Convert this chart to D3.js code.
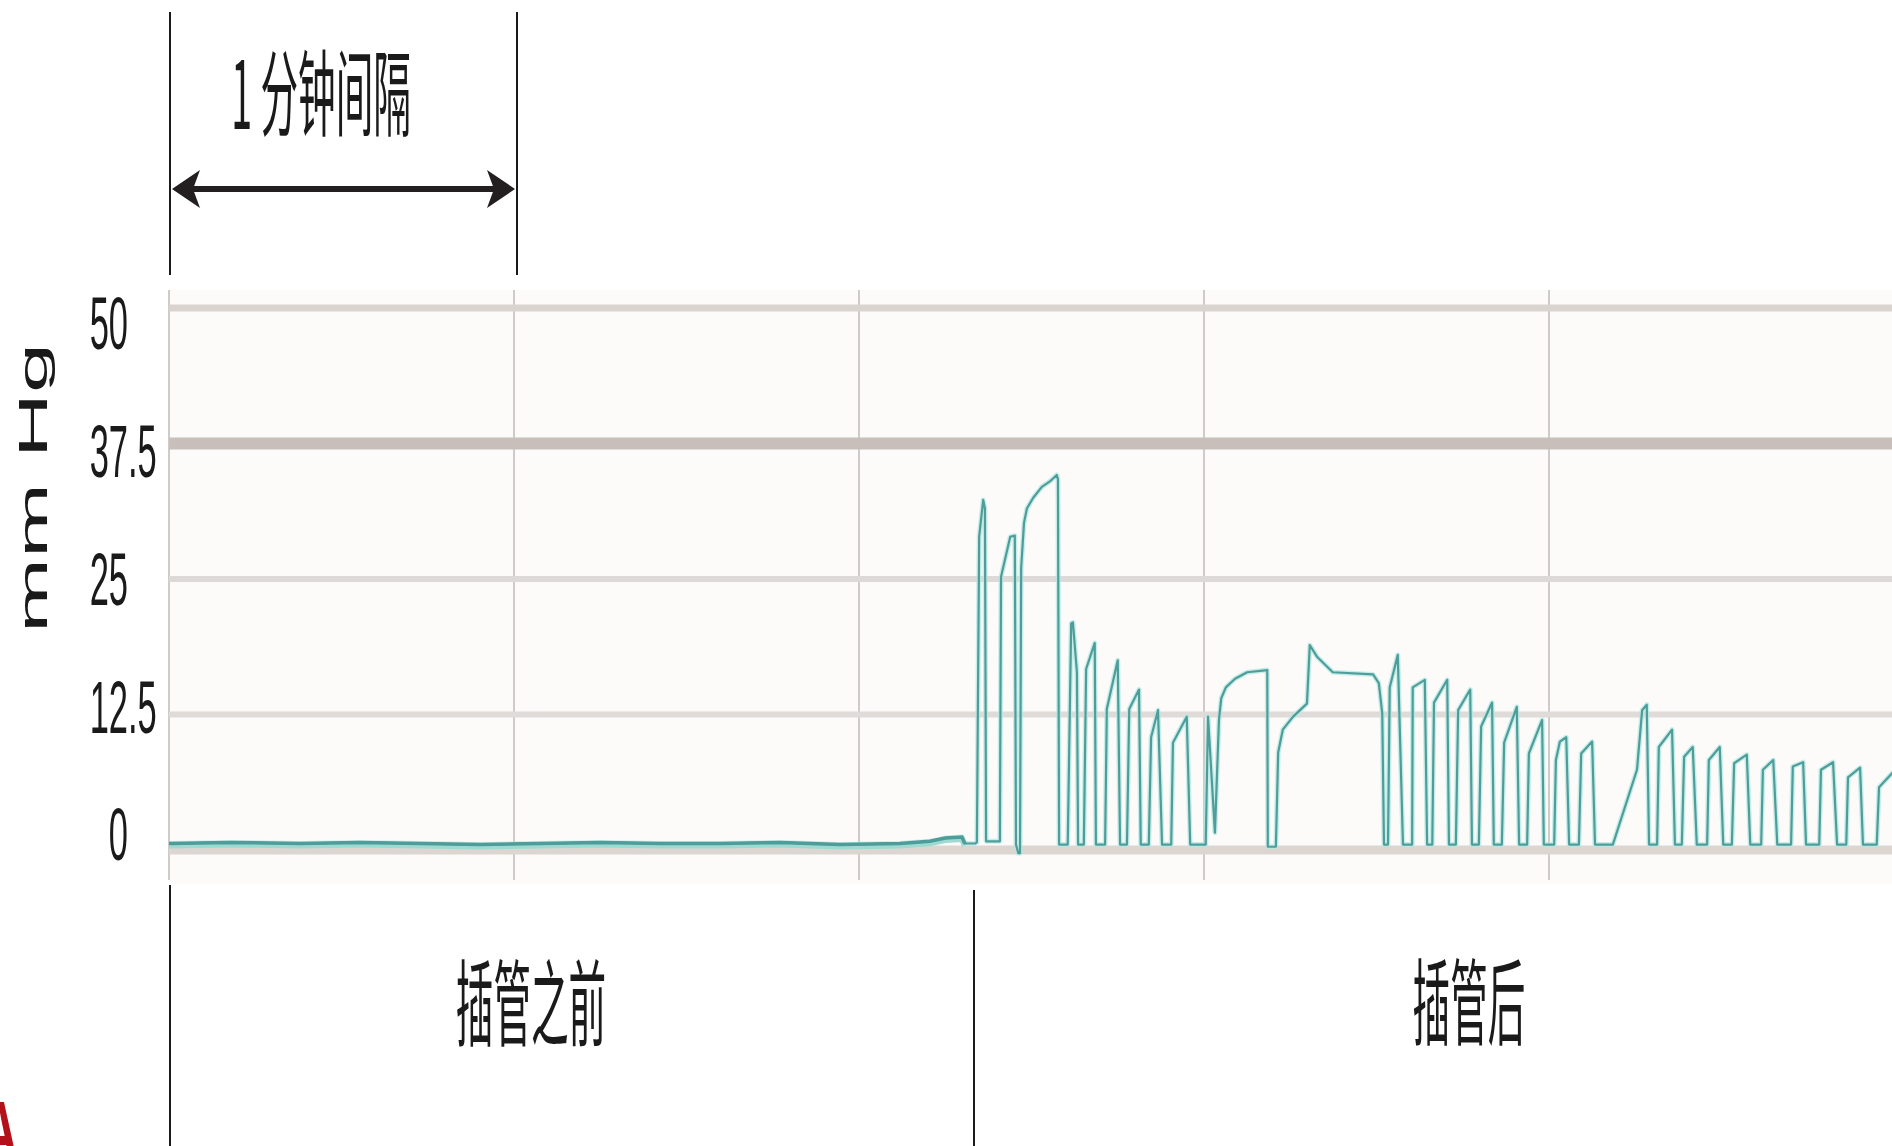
<!DOCTYPE html>
<html>
<head>
<meta charset="utf-8">
<script src="https://cdn.jsdelivr.net/npm/d3@7"></script>
<style>
  html, body { margin: 0; padding: 0; background: #fff; }
  svg { display: block; }
</style>
</head>
<body>
<svg id="chart" width="1892" height="1146"></svg>
<script>
// Airway pressure trace (mm Hg) over a 5-minute window, before and after intubation.
// Time is in seconds from the start of the recording.

const preTime = [0, 10.6, 22.8, 33.2, 43.7, 54.1, 64.5, 75.0, 85.4, 95.8, 106.3, 116.7,
  127.1, 132.3, 135.0, 137.9, 138.4];
const prePressure = [0.6, 0.7, 0.6, 0.7, 0.6, 0.5, 0.6, 0.7, 0.6, 0.6, 0.7, 0.5,
  0.6, 0.8, 1.1, 1.2, 0.6];

const postTime = [
  140.2, 140.5, 140.9, 141.6, 141.9, 142.1, 144.5, 144.7, 146.3, 147.1, 147.3, 147.7,
  148.0, 148.2, 148.7, 149.2, 150.3, 151.8, 153.2, 154.4, 154.6, 154.8, 156.3, 156.9,
  157.2, 157.9, 158.1, 159.1, 159.5, 161.0, 161.2, 162.8, 163.1, 165.0, 165.4, 166.6,
  167.0, 168.7, 169.0, 170.4, 170.8, 172.0, 172.7, 174.3, 174.6, 177.0, 177.6, 180.3,
  180.7, 181.9, 182.6, 183.0, 183.8, 185.4, 187.5, 191.0, 191.1, 192.5, 192.9, 193.7,
  195.5, 197.9, 198.4, 199.7, 202.4, 209.4, 210.4, 211.0, 211.3, 212.0, 212.3, 213.7,
  214.6, 216.2, 216.3, 218.4, 218.8, 219.7, 220.0, 222.3, 222.6, 223.8, 224.2, 226.3,
  226.6, 227.8, 228.2, 230.1, 230.4, 231.8, 232.2, 234.4, 234.8, 236.2, 236.5, 238.8,
  239.1, 240.9, 241.2, 241.9, 243.0, 243.5, 245.2, 245.6, 247.5, 248.0, 251.1, 255.3,
  256.2, 257.0, 257.4, 258.8, 259.1, 261.4, 261.9, 263.1, 263.5, 265.0, 265.7, 267.5,
  267.8, 269.7, 270.3, 271.8, 272.2, 274.4, 275.0, 276.9, 277.2, 279.0, 279.7, 282.1,
  282.4, 284.2, 284.7, 287.0, 287.3, 289.4, 290.1, 291.7, 292.0, 294.1, 294.6, 297.0,
  297.4, 299.7, 300.3];
const postPressure = [
  0.6, 0.7, 28.9, 32.3, 31.5, 0.8, 0.8, 25.2, 28.9, 29.0, 0.5, -0.3,
  -0.3, 26.0, 30.2, 31.5, 32.5, 33.5, 34.0, 34.6, 34.2, 0.5, 0.5, 20.9,
  21.0, 16.4, 0.5, 0.5, 16.7, 19.1, 0.5, 0.5, 13.0, 17.5, 0.5, 0.5,
  13.0, 14.8, 0.5, 0.5, 10.4, 12.9, 0.5, 0.5, 9.9, 12.3, 0.5, 0.5,
  12.3, 1.6, 12.0, 14.0, 15.0, 15.8, 16.4, 16.6, 0.3, 0.3, 9.0, 11.1,
  12.3, 13.5, 18.9, 17.8, 16.4, 16.2, 15.4, 12.6, 0.5, 0.5, 15.0, 18.0,
  0.5, 0.5, 15.0, 15.7, 0.5, 0.5, 13.6, 15.7, 0.5, 0.5, 12.9, 14.8,
  0.5, 0.5, 11.4, 13.6, 0.5, 0.5, 9.9, 13.2, 0.5, 0.5, 8.9, 12.0,
  0.5, 0.5, 8.3, 10.0, 10.4, 0.5, 0.5, 8.9, 10.0, 0.5, 0.5, 7.4,
  12.9, 13.4, 0.5, 0.5, 9.5, 11.1, 0.5, 0.5, 8.6, 9.5, 0.5, 0.5,
  8.3, 9.5, 0.5, 0.5, 8.0, 8.8, 0.5, 0.5, 7.4, 8.3, 0.5, 0.5,
  7.7, 8.1, 0.5, 0.5, 7.4, 8.1, 0.5, 0.5, 6.7, 7.6, 0.5, 0.5,
  5.8, 7.1, 7.3];

const yTicks = [0, 12.5, 25, 37.5, 50];
const gridMinutes = [0, 1, 2, 3, 4, 5];
const intubationSec = 140;
const intervalSec = 60;
const intervalLabel = "1 分钟间隔";
const phaseLabels = ["插管之前", "插管后"];
const axisTitle = "mm Hg";
const panelLetter = "A";

const svg = d3.select("#chart");
const W = 1892, H = 1146;

const x = d3.scaleLinear().domain([0, 300]).range([169, 1894]);
const y = d3.scaleLinear().domain([0, 50]).range([850, 308]);
// tick labels sit on a slightly tighter ladder than the grid rules
const yLabel = d3.scaleLinear().domain([0, 50]).range([834, 323]);

const plotTop = 290, plotBottom = 884;

svg.append("rect").attr("width", W).attr("height", H).attr("fill", "#ffffff");

// plot panel
svg.append("rect")
  .attr("x", x(0)).attr("y", plotTop)
  .attr("width", W - x(0)).attr("height", plotBottom - plotTop)
  .attr("fill", "#fdfbf9");

// vertical minute rules
svg.append("g").selectAll("line").data(gridMinutes).join("line")
  .attr("x1", d => x(d * 60)).attr("x2", d => x(d * 60))
  .attr("y1", plotTop).attr("y2", plotBottom - 4)
  .attr("stroke", "#cfcbc9").attr("stroke-width", 2);

// horizontal pressure rules
const ruleStyle = {
  0: { w: 9, c: "#dcd6d2" },
  12.5: { w: 6, c: "#dedbd9" },
  25: { w: 6, c: "#dcd9d7" },
  37.5: { w: 12, c: "#c9bfba" },
  50: { w: 7, c: "#d9d4d0" }
};
svg.append("g").selectAll("line").data(yTicks).join("line")
  .attr("x1", x(0)).attr("x2", W)
  .attr("y1", d => y(d)).attr("y2", d => y(d))
  .attr("stroke", d => ruleStyle[d].c)
  .attr("stroke-width", d => ruleStyle[d].w);

// pressure trace
const preTrace = preTime.map((t, i) => [t, prePressure[i]]);
const trace = preTrace.concat(postTime.map((t, i) => [t, postPressure[i]]));
const line = d3.line().x(d => x(d[0])).y(d => y(d[1]));
svg.append("path").datum(trace)
  .attr("d", line).attr("fill", "none")
  .attr("stroke", "#b4e8e1").attr("stroke-width", 5)
  .attr("stroke-linejoin", "round").attr("opacity", 0.75);
// the resting baseline reads as a heavier band
svg.append("path").datum(preTrace)
  .attr("d", line).attr("fill", "none")
  .attr("stroke", "#9ed9d2").attr("stroke-width", 6)
  .attr("transform", "translate(0,2)");
svg.append("path").datum(preTrace)
  .attr("d", line).attr("fill", "none")
  .attr("stroke", "#4f9d99").attr("stroke-width", 3.5);
svg.append("path").datum(trace)
  .attr("d", line).attr("fill", "none")
  .attr("stroke", "#4e9d9a").attr("stroke-width", 2.2)
  .attr("stroke-linejoin", "round");

// condensed text helper
function condensed(parent, px, py, str, size, sx, family, anchor) {
  const g = parent.append("g").attr("transform", `translate(${px},${py}) scale(${sx},1)`);
  g.append("text")
    .attr("x", 0).attr("y", 0)
    .attr("text-anchor", anchor || "middle")
    .attr("dominant-baseline", "central")
    .attr("font-family", family)
    .attr("font-size", size)
    .attr("fill", "#1a1a1a")
    .text(str);
  return g;
}

// y tick labels, aligned on the decimal point
const tickG = svg.append("g");
yTicks.forEach(v => {
  const parts = String(v).split(".");
  const g = tickG.append("g")
    .attr("transform", `translate(128,${yLabel(v)}) scale(0.46,1)`);
  g.append("text").attr("text-anchor", "end").attr("dominant-baseline", "central")
    .attr("font-family", "Liberation Sans, Arial, sans-serif").attr("font-size", 75)
    .attr("fill", "#1a1a1a").text(parts[0]);
  if (parts[1]) {
    g.append("text").attr("text-anchor", "start").attr("dominant-baseline", "central")
      .attr("font-family", "Liberation Sans, Arial, sans-serif").attr("font-size", 75)
      .attr("fill", "#1a1a1a").text("." + parts[1]);
  }
});

// y axis title
svg.append("g")
  .attr("transform", "translate(47,488) scale(0.45,1) rotate(-90)")
  .append("text")
  .attr("text-anchor", "middle")
  .attr("font-family", "Liberation Sans, Arial, sans-serif")
  .attr("font-size", 90)
  .attr("fill", "#1a1a1a")
  .text(axisTitle);

// one-minute interval bracket
const bx0 = x(0) + 1, bx1 = x(intervalSec) + 3, by = 189;
svg.append("g").selectAll("line").data([bx0, bx1]).join("line")
  .attr("x1", d => d).attr("x2", d => d)
  .attr("y1", 12).attr("y2", 275)
  .attr("stroke", "#1a1a1a").attr("stroke-width", 2);
svg.append("line")
  .attr("x1", bx0 + 10).attr("x2", bx1 - 10)
  .attr("y1", by).attr("y2", by)
  .attr("stroke", "#231f20").attr("stroke-width", 6);
const head = (tip, dir) => {
  const b = tip + dir * 28, n = tip + dir * 21;
  return `M${tip},${by} L${b},${by - 19} L${n},${by} L${b},${by + 19} Z`;
};
svg.append("path").attr("d", head(bx0 + 2, 1)).attr("fill", "#231f20");
svg.append("path").attr("d", head(bx1 - 2, -1)).attr("fill", "#231f20");

condensed(svg, 321, 88, intervalLabel, 94, 0.4, "Noto Sans CJK SC, sans-serif");

// phase dividers and labels
svg.append("line").attr("x1", x(0) + 1).attr("x2", x(0) + 1)
  .attr("y1", 885).attr("y2", H).attr("stroke", "#1a1a1a").attr("stroke-width", 2);
svg.append("line").attr("x1", x(intubationSec)).attr("x2", x(intubationSec))
  .attr("y1", 890).attr("y2", H).attr("stroke", "#1a1a1a").attr("stroke-width", 2);

condensed(svg, 531, 998, phaseLabels[0], 94, 0.4, "Noto Sans CJK SC, sans-serif");
condensed(svg, 1469, 997, phaseLabels[1], 94, 0.4, "Noto Sans CJK SC, sans-serif");

// panel letter at the lower left corner
svg.append("g")
  .attr("transform", "translate(18,1160) scale(0.6,1)")
  .append("text")
  .attr("text-anchor", "end")
  .attr("font-family", "Liberation Sans, Arial, sans-serif")
  .attr("font-weight", "bold")
  .attr("font-size", 84)
  .attr("fill", "#b3121b")
  .text(panelLetter);
</script>
</body>
</html>
